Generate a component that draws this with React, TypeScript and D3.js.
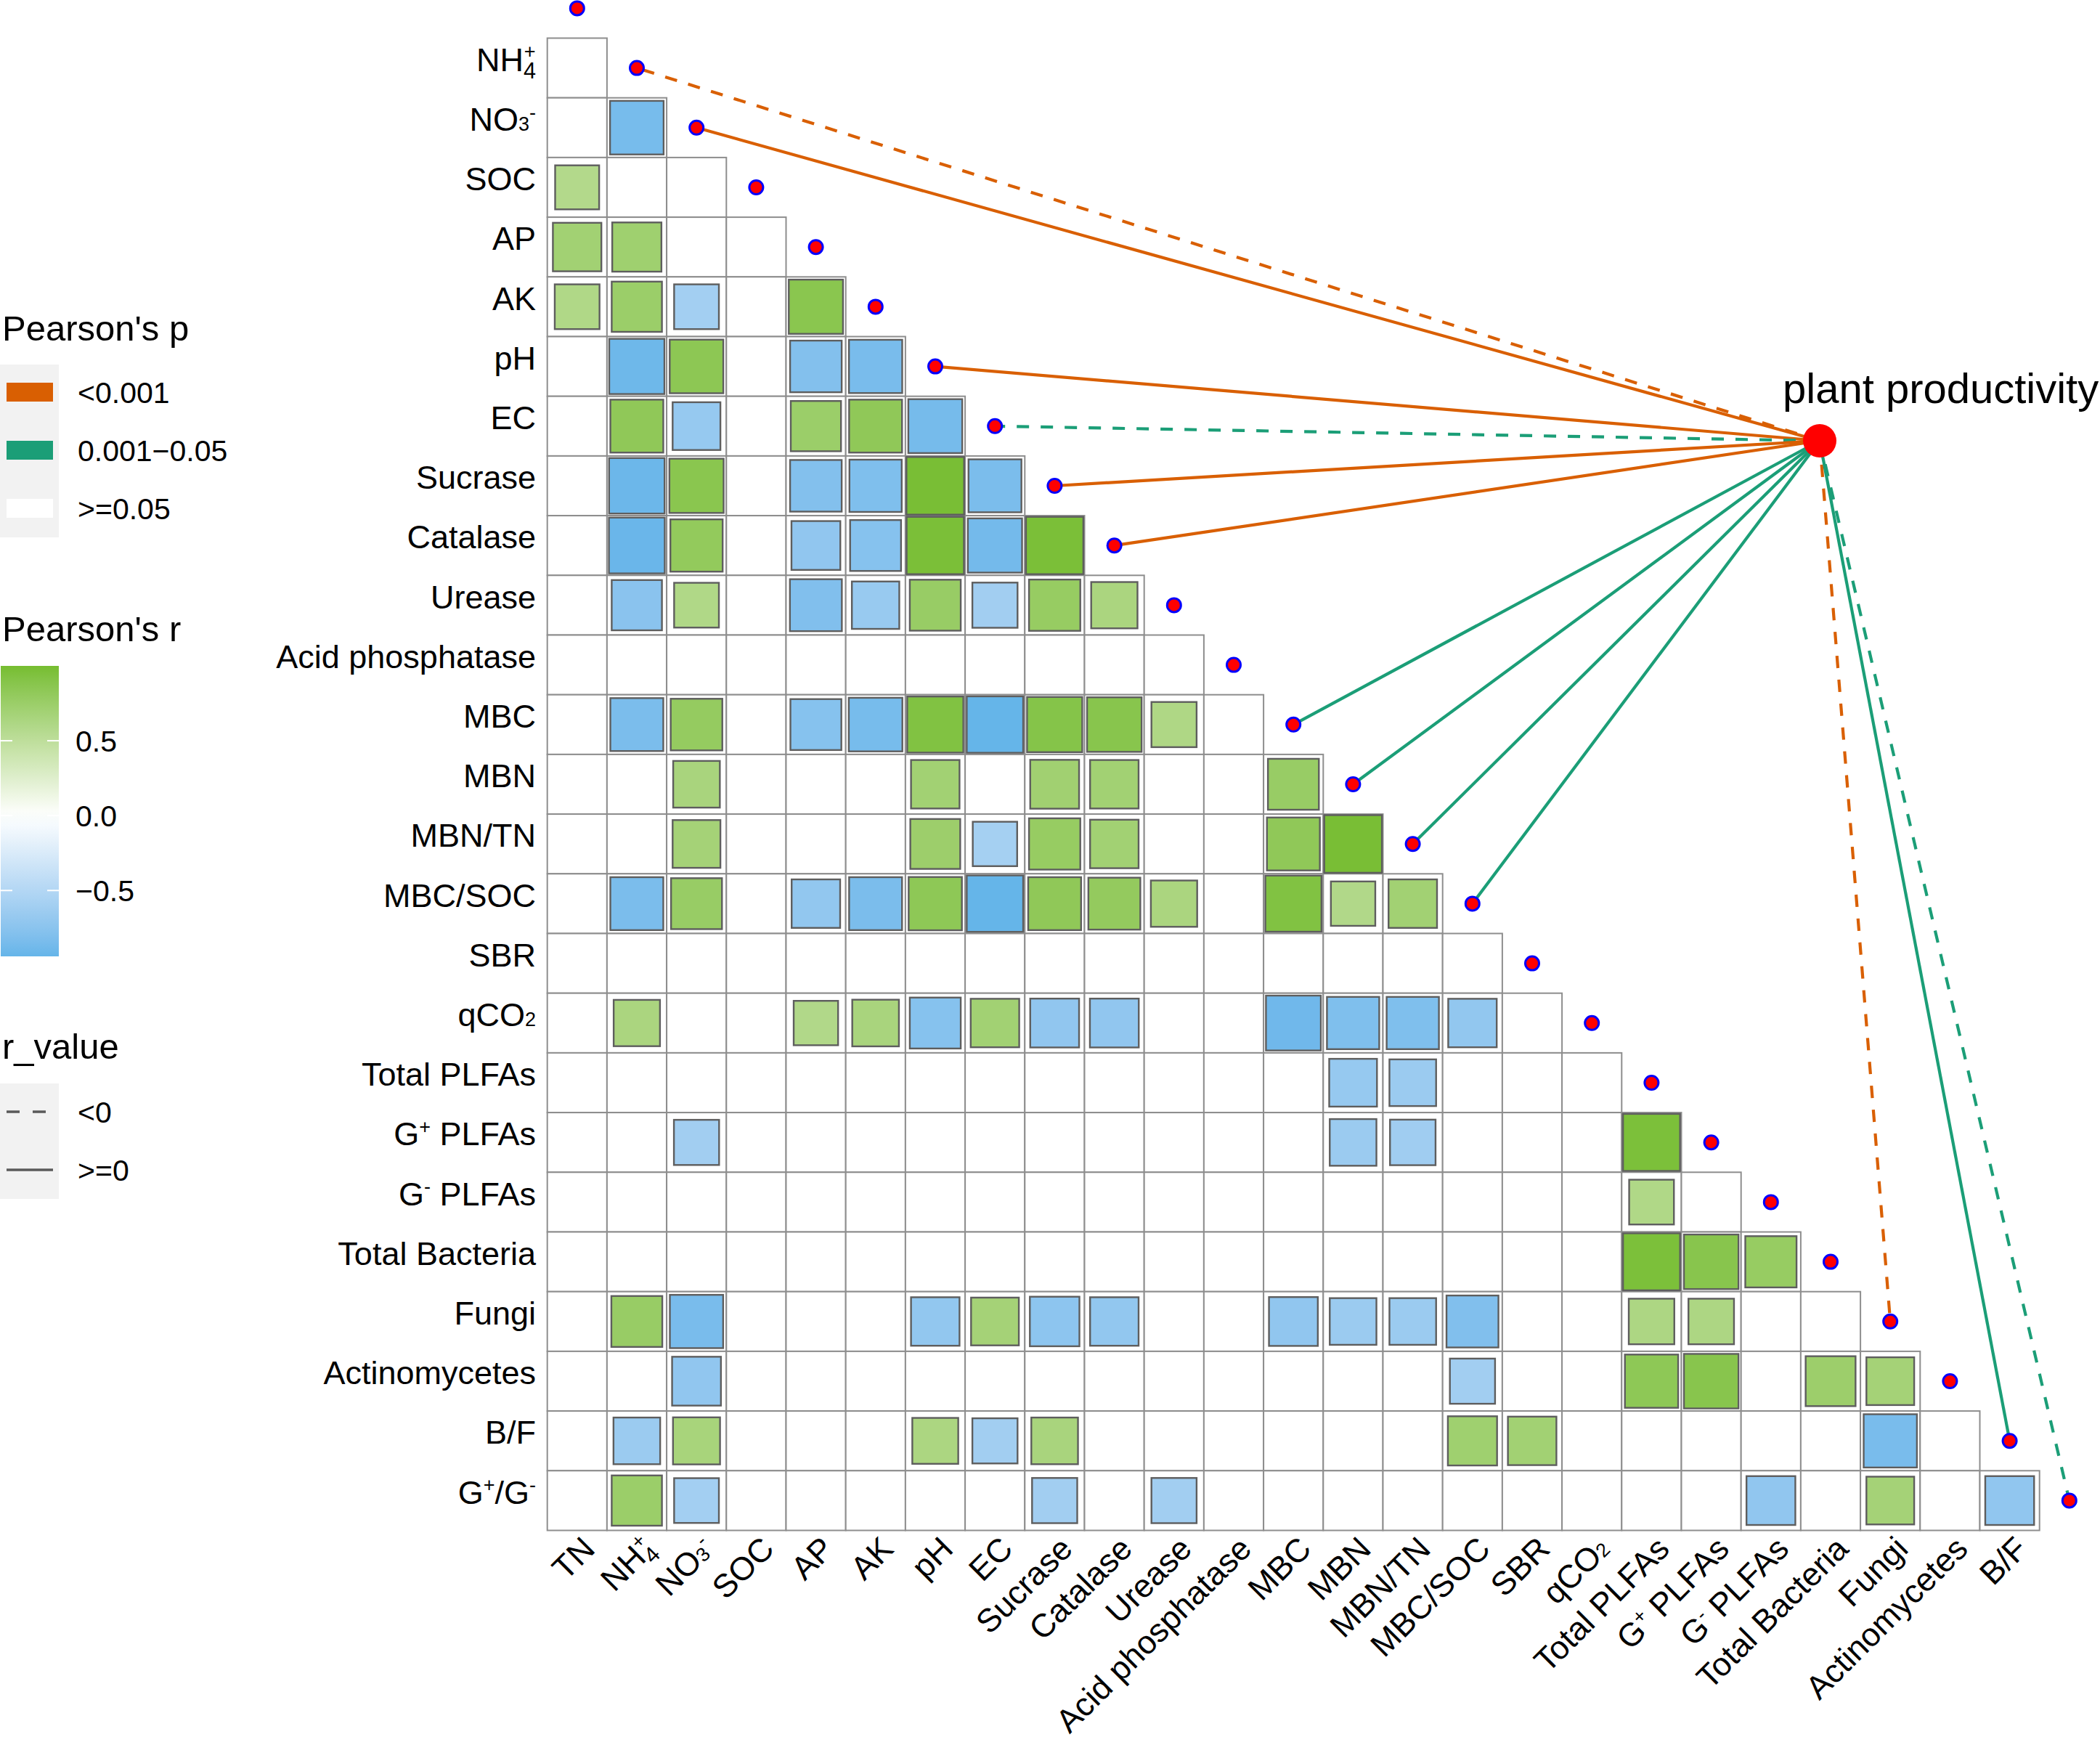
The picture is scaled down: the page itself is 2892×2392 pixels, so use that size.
import * as d3 from "d3";

// variables in matrix order (TN ... G+/G-)
const varKeys = [
  "TN", "NH4", "NO3", "SOC", "AP", "AK", "pH", "EC", "Sucrase", "Catalase",
  "Urease", "AcidP", "MBC", "MBN", "MBN/TN", "MBC/SOC", "SBR", "qCO2",
  "TotalPLFAs", "GposPLFAs", "GnegPLFAs", "TotalBacteria", "Fungi",
  "Actinomycetes", "B/F", "G+/G-",
];

const varLabels = [
  "TN", "NH4+", "NO3-", "SOC", "AP", "AK", "pH", "EC", "Sucrase", "Catalase",
  "Urease", "Acid phosphatase", "MBC", "MBN", "MBN/TN", "MBC/SOC", "SBR", "qCO2",
  "Total PLFAs", "G+ PLFAs", "G- PLFAs", "Total Bacteria", "Fungi",
  "Actinomycetes", "B/F", "G+/G-",
];

// significant Pearson's r (row variable, column variable, r)
const sigCells: [string, string, number][] = [
  ["NO3", "NH4", -0.85],
  ["SOC", "TN", 0.58],
  ["AP", "TN", 0.7], ["AP", "NH4", 0.72],
  ["AK", "TN", 0.6], ["AK", "NH4", 0.75], ["AK", "NO3", -0.6], ["AK", "AP", 0.87],
  ["pH", "NH4", -0.9], ["pH", "NO3", 0.85], ["pH", "AP", -0.79], ["pH", "AK", -0.84],
  ["EC", "NH4", 0.83], ["EC", "NO3", -0.68], ["EC", "AP", 0.75], ["EC", "AK", 0.83], ["EC", "pH", -0.86],
  ["Sucrase", "NH4", -0.91], ["Sucrase", "NO3", 0.87], ["Sucrase", "AP", -0.79], ["Sucrase", "AK", -0.81],
  ["Sucrase", "pH", 0.98], ["Sucrase", "EC", -0.83],
  ["Catalase", "NH4", -0.92], ["Catalase", "NO3", 0.81], ["Catalase", "AP", -0.71], ["Catalase", "AK", -0.77],
  ["Catalase", "pH", 0.97], ["Catalase", "EC", -0.87], ["Catalase", "Sucrase", 0.97],
  ["Urease", "NH4", -0.75], ["Urease", "NO3", 0.6], ["Urease", "AP", -0.8], ["Urease", "AK", -0.67],
  ["Urease", "pH", 0.77], ["Urease", "EC", -0.61], ["Urease", "Sucrase", 0.78], ["Urease", "Catalase", 0.64],
  ["MBC", "NH4", -0.83], ["MBC", "NO3", 0.79], ["MBC", "AP", -0.77], ["MBC", "AK", -0.85],
  ["MBC", "pH", 0.93], ["MBC", "EC", -0.94], ["MBC", "Sucrase", 0.9], ["MBC", "Catalase", 0.88],
  ["MBC", "Urease", 0.61],
  ["MBN", "NO3", 0.65], ["MBN", "pH", 0.7], ["MBN", "Sucrase", 0.71], ["MBN", "Catalase", 0.7],
  ["MBN", "MBC", 0.77],
  ["MBN/TN", "NO3", 0.68], ["MBN/TN", "pH", 0.74], ["MBN/TN", "EC", -0.59], ["MBN/TN", "Sucrase", 0.78],
  ["MBN/TN", "Catalase", 0.7], ["MBN/TN", "MBC", 0.83], ["MBN/TN", "MBN", 0.98],
  ["MBC/SOC", "NH4", -0.83], ["MBC/SOC", "NO3", 0.77], ["MBC/SOC", "AP", -0.7], ["MBC/SOC", "AK", -0.83],
  ["MBC/SOC", "pH", 0.84], ["MBC/SOC", "EC", -0.94], ["MBC/SOC", "Sucrase", 0.83], ["MBC/SOC", "Catalase", 0.8],
  ["MBC/SOC", "Urease", 0.64], ["MBC/SOC", "MBC", 0.93], ["MBC/SOC", "MBN", 0.59], ["MBC/SOC", "MBN/TN", 0.7],
  ["qCO2", "NH4", 0.64], ["qCO2", "AP", 0.59], ["qCO2", "AK", 0.65], ["qCO2", "pH", -0.77],
  ["qCO2", "EC", 0.7], ["qCO2", "Sucrase", -0.71], ["qCO2", "Catalase", -0.71], ["qCO2", "MBC", -0.89],
  ["qCO2", "MBN", -0.81], ["qCO2", "MBN/TN", -0.81], ["qCO2", "MBC/SOC", -0.7],
  ["TotalPLFAs", "MBN", -0.68], ["TotalPLFAs", "MBN/TN", -0.65],
  ["GposPLFAs", "NO3", -0.61], ["GposPLFAs", "MBN", -0.65], ["GposPLFAs", "MBN/TN", -0.62],
  ["GposPLFAs", "TotalPLFAs", 0.96],
  ["GnegPLFAs", "TotalPLFAs", 0.6],
  ["TotalBacteria", "TotalPLFAs", 0.96], ["TotalBacteria", "GposPLFAs", 0.88], ["TotalBacteria", "GnegPLFAs", 0.78],
  ["Fungi", "NH4", 0.77], ["Fungi", "NO3", -0.84], ["Fungi", "pH", -0.7], ["Fungi", "EC", 0.68],
  ["Fungi", "Sucrase", -0.73], ["Fungi", "Catalase", -0.7], ["Fungi", "MBC", -0.71], ["Fungi", "MBN", -0.65],
  ["Fungi", "MBN/TN", -0.65], ["Fungi", "MBC/SOC", -0.8], ["Fungi", "TotalPLFAs", 0.62], ["Fungi", "GposPLFAs", 0.62],
  ["Actinomycetes", "NO3", -0.71], ["Actinomycetes", "MBC/SOC", -0.61], ["Actinomycetes", "TotalPLFAs", 0.84],
  ["Actinomycetes", "GposPLFAs", 0.88], ["Actinomycetes", "TotalBacteria", 0.74], ["Actinomycetes", "Fungi", 0.68],
  ["B/F", "NH4", -0.65], ["B/F", "NO3", 0.66], ["B/F", "pH", 0.63], ["B/F", "EC", -0.61],
  ["B/F", "Sucrase", 0.65], ["B/F", "MBC/SOC", 0.72], ["B/F", "SBR", 0.7], ["B/F", "Fungi", -0.84],
  ["G+/G-", "NH4", 0.75], ["G+/G-", "NO3", -0.6], ["G+/G-", "Sucrase", -0.61], ["G+/G-", "Urease", -0.61],
  ["G+/G-", "GnegPLFAs", -0.71], ["G+/G-", "Fungi", 0.68], ["G+/G-", "B/F", -0.71],
];

// links to plant productivity (p class and sign of r)
const linkVars = ["NH4", "NO3", "pH", "EC", "Sucrase", "Catalase", "MBC", "MBN", "MBN/TN", "MBC/SOC", "Fungi", "B/F", "G+/G-"];
const linkP = ["<0.001", "<0.001", "<0.001", "0.001-0.05", "<0.001", "<0.001", "0.001-0.05", "0.001-0.05", "0.001-0.05", "0.001-0.05", "<0.001", "0.001-0.05", "0.001-0.05"];
const linkSign = ["<0", ">=0", ">=0", "<0", ">=0", ">=0", ">=0", ">=0", ">=0", ">=0", "<0", ">=0", "<0"];

const pLevels = ["<0.001", "0.001-0.05", ">=0.05"];
const pLabels = ["<0.001", "0.001−0.05", ">=0.05"];
const signLevels = ["<0", ">=0"];
const rTicks = [0.5, 0, -0.5];
const rRange = [-0.94, 1];

const FONT = "'Liberation Sans', Arial, Helvetica, 'DejaVu Sans', sans-serif";
const W = 2892;
const H = 2392;
const cell = 82.2;
const n = 25;
const gx0 = 753.7;
const gy0 = 52.5;

const xIdx = d3.scaleLinear().domain([0, n]).range([gx0, gx0 + n * cell]);
const yIdx = d3.scaleLinear().domain([0, n]).range([gy0, gy0 + n * cell]);

const fill = d3
  .scaleLinear<string>()
  .domain([-1, 0, 1])
  .range(["#58B0E8", "#FFFFFF", "#76BD30"])
  .interpolate(d3.interpolateLab);

const pColor = d3.scaleOrdinal<string, string>().domain(pLevels).range(["#D95F02", "#1B9E77", "#FFFFFF"]);

const node = { x: 2506, y: 607 };

// small raised / lowered glyphs like the original labels
function Label({ text, fs }: { text: string; fs: number }) {
  const sm = fs * 0.6;
  const sup = (ch: string) => (
    <tspan fontSize={sm} dy={-0.36 * fs}>{ch}</tspan>
  );
  switch (text) {
    case "NH4+":
      return (
        <>
          NH
          <tspan fontSize={fs * 0.68} dy={0.22 * fs}>4</tspan>
          <tspan fontSize={fs * 0.6} dx={-0.36 * fs} dy={-0.62 * fs}>+</tspan>
        </>
      );
    case "NO3-":
      return (
        <>
          NO<tspan fontSize={sm}>3</tspan>
          {sup("-")}
        </>
      );
    case "qCO2":
      return (
        <>
          qCO<tspan fontSize={sm}>2</tspan>
        </>
      );
    case "G+ PLFAs":
      return (
        <>
          G{sup("+")}
          <tspan dy={0.36 * fs}> PLFAs</tspan>
        </>
      );
    case "G- PLFAs":
      return (
        <>
          G{sup("-")}
          <tspan dy={0.36 * fs}> PLFAs</tspan>
        </>
      );
    case "G+/G-":
      return (
        <>
          G{sup("+")}
          <tspan dy={0.36 * fs}>/G</tspan>
          {sup("-")}
        </>
      );
    default:
      return <>{text}</>;
  }
}

export default function App() {
  const cellMap = new Map<string, number>();
  sigCells.forEach(([a, b, r]) => cellMap.set(`${a}|${b}`, r));

  const grid: JSX.Element[] = [];
  const squares: JSX.Element[] = [];
  for (let row = 0; row < n; row++) {
    const rv = varKeys[row + 1];
    for (let col = 0; col <= row; col++) {
      const cv = varKeys[col];
      const x = xIdx(col);
      const y = yIdx(row);
      grid.push(
        <rect key={`g${row}-${col}`} x={x} y={y} width={cell} height={cell} fill="#FFFFFF" stroke="#8E8E8E" strokeWidth={2} />
      );
      const r = cellMap.get(`${rv}|${cv}`);
      if (r !== undefined) {
        const side = cell * Math.sqrt(Math.abs(r)) - 2;
        squares.push(
          <rect
            key={`s${row}-${col}`}
            x={x + (cell - side) / 2}
            y={y + (cell - side) / 2}
            width={side}
            height={side}
            fill={fill(r)}
            stroke="#5E5E5E"
            strokeWidth={2.4}
          />
        );
      }
    }
  }

  const dotPos = (k: number) => ({ x: xIdx(k + 0.5), y: yIdx(k - 0.5) });

  const cbY = d3.scaleLinear().domain(rRange).range([1317, 917]);
  const stops = d3.range(0, 1.0001, 0.05).map((t) => {
    const v = rRange[1] - t * (rRange[1] - rRange[0]);
    return { off: t, color: fill(v) };
  });

  const fs = 45;

  return (
    <>
      <style>{"body{margin:0}"}</style>
      <svg width={W} height={H} fontFamily={FONT} style={{ display: "block", background: "#FFFFFF" }}>
        <defs>
          <linearGradient id="cbar" x1="0" y1="0" x2="0" y2="1">
            {stops.map((s, i) => (
              <stop key={i} offset={s.off} stopColor={s.color} />
            ))}
          </linearGradient>
        </defs>

        <g>{grid}</g>
        <g>{squares}</g>

        {/* links */}
        <g fill="none">
          {linkVars.map((v, i) => {
            const k = varKeys.indexOf(v);
            const p = dotPos(k);
            return (
              <line
                key={v}
                x1={node.x}
                y1={node.y}
                x2={p.x}
                y2={p.y}
                stroke={pColor(linkP[i])}
                strokeWidth={4.2}
                strokeDasharray={linkSign[i] === "<0" ? "17 16" : undefined}
              />
            );
          })}
        </g>

        {/* diagonal nodes */}
        <g>
          {varKeys.map((v, k) => {
            const p = dotPos(k);
            return <circle key={v} cx={p.x} cy={p.y} r={9.5} fill="#FF0000" stroke="#0000FF" strokeWidth={3} />;
          })}
        </g>
        <circle cx={node.x} cy={node.y} r={23} fill="#FF0000" />
        <text x={2455} y={555} fontSize={58} fill="#000">plant productivity</text>

        {/* row labels */}
        <g fontSize={fs} textAnchor="end" fill="#000">
          {varLabels.slice(1).map((lab, i) => (
            <text key={lab} x={738} y={yIdx(i + 0.5) - 12} dy="0.36em">
              <Label text={lab} fs={fs} />
            </text>
          ))}
        </g>

        {/* column labels */}
        <g fontSize={fs} textAnchor="end" fill="#000">
          {varLabels.slice(0, n).map((lab, j) => (
            <text key={lab} transform={`translate(${xIdx(j + 0.5) + 27},${yIdx(n) + 28}) rotate(-45)`}>
              <Label text={lab} fs={fs} />
            </text>
          ))}
        </g>

        {/* legend: Pearson's p */}
        <g fill="#000">
          <text x={3} y={469} fontSize={49}>Pearson's p</text>
          <rect x={0} y={502} width={81} height={238} fill="#F2F2F2" />
          {pLevels.map((lv, i) => (
            <g key={lv}>
              <rect x={9} y={527 + i * 80} width={64} height={26} fill={pColor(lv)} />
              <text x={107} y={540 + i * 80} dy="0.36em" fontSize={41}>{pLabels[i]}</text>
            </g>
          ))}
        </g>

        {/* legend: Pearson's r */}
        <g fill="#000">
          <text x={3} y={883} fontSize={49}>Pearson's r</text>
          <rect x={1} y={917} width={80} height={400} fill="url(#cbar)" />
          {rTicks.map((t) => (
            <g key={t}>
              <line x1={1} x2={17} y1={cbY(t)} y2={cbY(t)} stroke="#FFFFFF" strokeWidth={2} />
              <line x1={65} x2={81} y1={cbY(t)} y2={cbY(t)} stroke="#FFFFFF" strokeWidth={2} />
              <text x={104} y={cbY(t)} dy="0.36em" fontSize={41}>{t === 0 ? "0.0" : t < 0 ? `−${Math.abs(t).toFixed(1)}` : t.toFixed(1)}</text>
            </g>
          ))}
        </g>

        {/* legend: r_value */}
        <g fill="#000">
          <text x={3} y={1458} fontSize={49}>r_value</text>
          <rect x={0} y={1492} width={81} height={159} fill="#F2F2F2" />
          {signLevels.map((s, i) => (
            <g key={s}>
              <line
                x1={9}
                x2={73}
                y1={1531 + i * 80}
                y2={1531 + i * 80}
                stroke="#5A5A5A"
                strokeWidth={3.5}
                strokeDasharray={s === "<0" ? "18 18" : undefined}
              />
              <text x={107} y={1531 + i * 80} dy="0.36em" fontSize={41}>{s}</text>
            </g>
          ))}
        </g>
      </svg>
    </>
  );
}
